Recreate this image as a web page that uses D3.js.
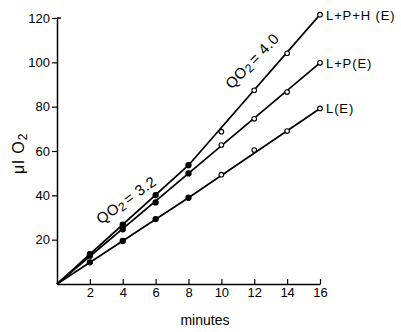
<!DOCTYPE html>
<html>
<head>
<meta charset="utf-8">
<script src="https://cdn.jsdelivr.net/npm/d3@7"></script>
<style>
  body { margin: 0; background: #fff; }
  svg { display: block; font-family: "Liberation Sans", Arial, sans-serif; }
</style>
</head>
<body>
<div id="chart"></div>
<script>
// time points (minutes)
const minutes = [0, 2, 4, 6, 8, 10, 12, 14, 16];
// µl O2
const lphValues = [0, 13.5, 26.8, 40.1, 53.6, 68.7, 87.4, 104.1, 121.5];
const lpValues = [0, 12.8, 24.7, 36.8, 49.9, 62.7, 74.5, 86.6, 99.8];
const lValues = [0, 9.8, 19.4, 29.3, 38.9, 49.3, 60.4, 69.0, 79.2];
const seriesNames = ["L+P+H (E)", "L+P(E)", "L(E)"];
const xTicks = [2, 4, 6, 8, 10, 12, 14, 16];
const yTicks = [20, 40, 60, 80, 100, 120];
const filledUntil = 8; // closed symbols up to 8 min, open after
const fitKnots = [0, 8, 16]; // lines are drawn as straight fits between these times

const width = 401, height = 332;
const margin = { top: 18, right: 81, bottom: 48, left: 57 };

const svg = d3.select('#chart').append('svg')
  .attr('width', width)
  .attr('height', height);

const x = d3.scaleLinear().domain([0, 16]).range([margin.left, width - margin.right]);
const y = d3.scaleLinear().domain([0, 120]).range([height - margin.bottom, margin.top]);

// axes
const xAxis = svg.append('g')
  .attr('transform', `translate(0,${y(0)})`)
  .call(d3.axisBottom(x).tickValues(xTicks).tickSize(-5).tickPadding(4).tickSizeOuter(0));
xAxis.select('.domain').attr('stroke-width', 1.5);
xAxis.selectAll('.tick line').attr('stroke-width', 1.2);
xAxis.selectAll('.tick text').attr('font-size', 13).attr('fill', '#000');

const yAxis = svg.append('g')
  .attr('transform', `translate(${x(0)},0)`)
  .call(d3.axisLeft(y).tickValues(yTicks).tickSize(5).tickPadding(2).tickSizeOuter(0));
yAxis.select('.domain').attr('stroke-width', 1.5);
yAxis.selectAll('.tick line').attr('stroke-width', 1.2);
yAxis.selectAll('.tick text').attr('font-size', 13).attr('fill', '#000');
// small hook at the top of the y axis
svg.append('line')
  .attr('x1', x(0)).attr('x2', x(0) + 4)
  .attr('y1', y(120)).attr('y2', y(120))
  .attr('stroke', '#000').attr('stroke-width', 1.5);

// series
const series = [lphValues, lpValues, lValues].map((vals, i) => ({
  name: seriesNames[i],
  points: minutes.map((m, j) => ({ m, v: vals[j] }))
}));

const line = d3.line().x(d => x(d.m)).y(d => y(d.v));

svg.selectAll('path.series')
  .data(series)
  .enter()
  .append('path')
  .attr('class', 'series')
  .attr('d', d => line(d.points.filter(p => fitKnots.includes(p.m))))
  .attr('fill', 'none')
  .attr('stroke', '#000')
  .attr('stroke-width', 1.7);

series.forEach(s => {
  svg.selectAll(null)
    .data(s.points.filter(p => p.m > 0))
    .enter()
    .append('circle')
    .attr('cx', d => x(d.m))
    .attr('cy', d => y(d.v))
    .attr('r', d => d.m <= filledUntil ? 2.6 : 2.3)
    .attr('fill', d => d.m <= filledUntil ? '#000' : '#fff')
    .attr('stroke', '#000')
    .attr('stroke-width', 1.1);

  const last = s.points[s.points.length - 1];
  svg.append('text')
    .attr('x', x(last.m) + 6)
    .attr('y', y(last.v) + 5)
    .attr('font-size', 13)
    .attr('letter-spacing', 0.9)
    .text(s.name);
});

// QO2 annotations
function qLabel(cx, cy, angle, value) {
  const t = svg.append('text')
    .attr('transform', `translate(${cx},${cy}) rotate(${angle})`)
    .attr('text-anchor', 'middle')
    .attr('font-size', 15)
    .attr('letter-spacing', 0.5);
  t.append('tspan').text('QO');
  t.append('tspan').attr('baseline-shift', '-20%').attr('font-size', 12).text('2');
  t.append('tspan').attr('dx', 2).text('= ' + value);
}
qLabel(x(4.4), y(36), -36, '3.2');
qLabel(x(12.1), y(99), -46, '4.0');

// axis titles
const yl = svg.append('text')
  .attr('transform', `translate(24,${y(59)}) rotate(-90)`)
  .attr('text-anchor', 'middle')
  .attr('font-size', 16)
  .attr('letter-spacing', 1);
yl.append('tspan').text('μl O');
yl.append('tspan').attr('baseline-shift', '-25%').attr('font-size', 12).text('2');

svg.append('text')
  .attr('x', x(9.0))
  .attr('y', 325)
  .attr('text-anchor', 'middle')
  .attr('font-size', 14)
  .text('minutes');
</script>
</body>
</html>
